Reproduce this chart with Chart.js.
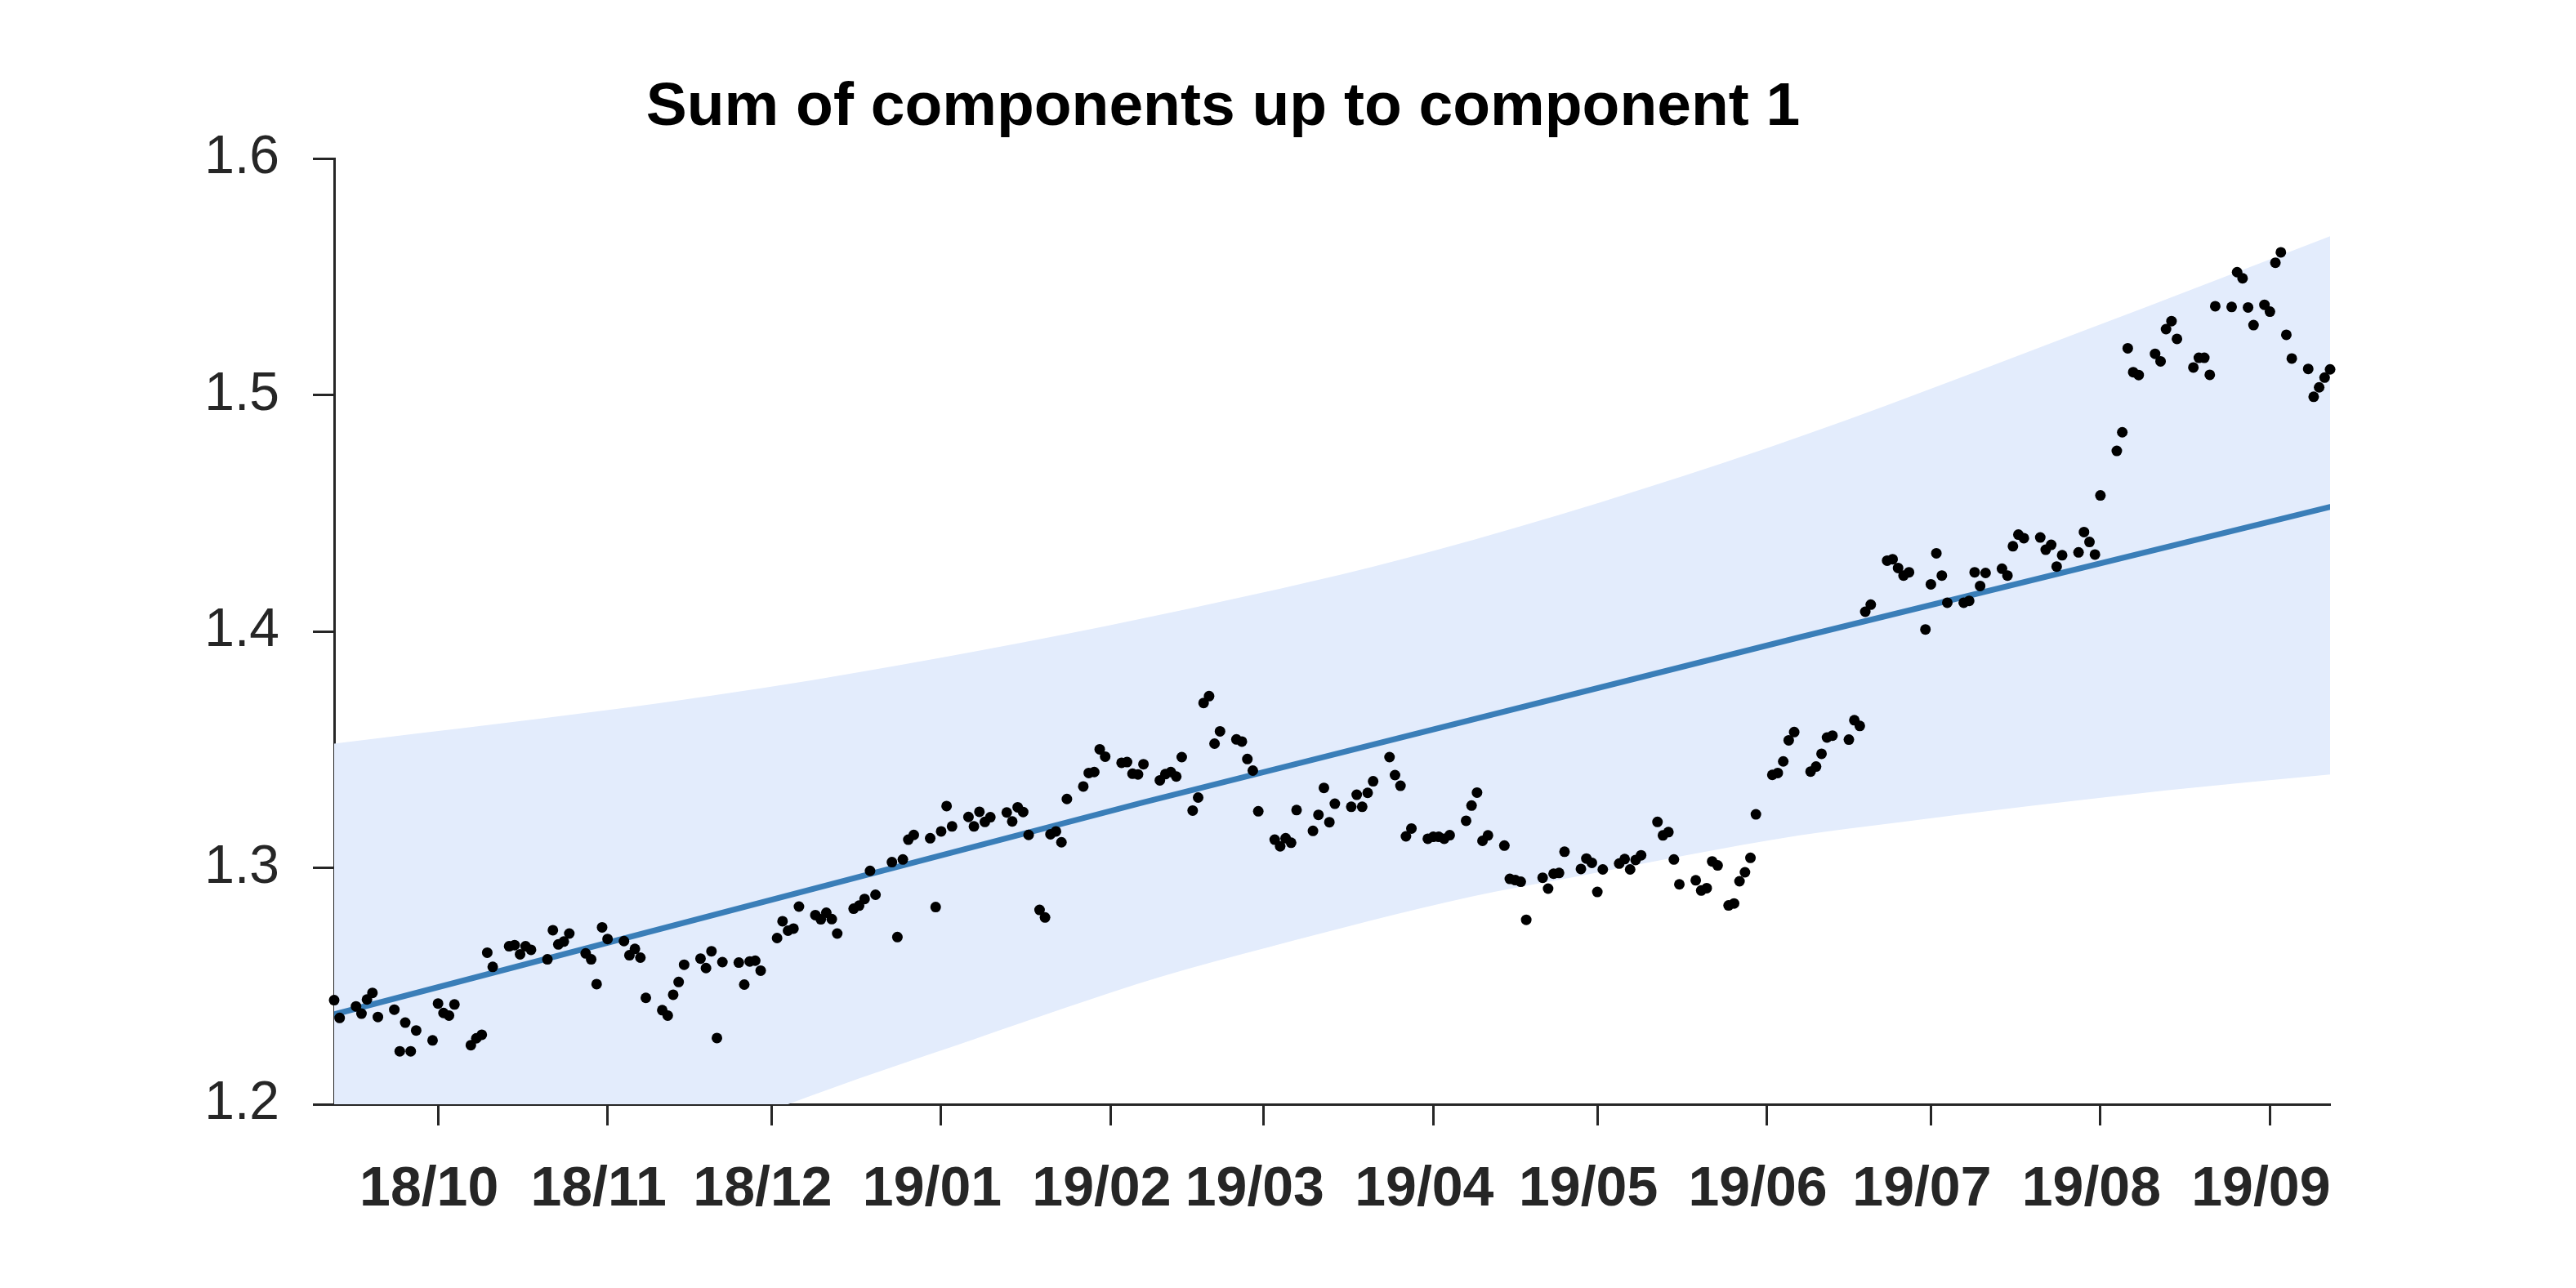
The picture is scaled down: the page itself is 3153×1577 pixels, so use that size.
<!DOCTYPE html>
<html>
<head>
<meta charset="utf-8">
<title>Sum of components up to component 1</title>
<script src="https://cdn.jsdelivr.net/npm/chart.js@4.4.0/dist/chart.umd.min.js"></script>
<style>
    html, body { margin: 0; padding: 0; background: #ffffff; }
    #wrap { width: 3153px; height: 1577px; }
</style>
</head>
<body>
<div id="wrap"><canvas id="chart" width="3153" height="1577"></canvas></div>
<script>
/* x values are days counted from 2018-10-01 */

const titleText = 'Sum of components up to component 1';

const monthTicks = [0, 31, 61, 92, 123, 151, 182, 212, 243, 273, 304, 335];
const monthLabels = ['18/10', '18/11', '18/12', '19/01', '19/02', '19/03',
                     '19/04', '19/05', '19/06', '19/07', '19/08', '19/09'];

const yTicks = [1.2, 1.3, 1.4, 1.5, 1.6];

// observed points
const days = [
    -19, -18,
    -15, -14, -13, -12, -11,
    -8, -7, -6, -5, -4,
    -1, 0, 1, 2, 3,
    6, 7, 8, 9, 10,
    13, 14, 15, 16, 17,
    20, 21, 22, 23, 24,
    27, 28, 29, 30, 31,
    34, 35, 36, 37, 38,
    41, 42, 43, 44, 45,
    48, 49, 50, 51, 52,
    55, 56, 57, 58, 59,
    62, 63, 64, 65, 66,
    69, 70, 71, 72, 73,
    76, 77, 78, 79, 80,
    83, 84, 85, 86, 87,
    90, 91, 92, 93, 94,
    97, 98, 99, 100, 101,
    104, 105, 106, 107, 108,
    110, 111, 112, 113, 114, 115,
    118, 119, 120, 121, 122,
    125, 126, 127, 128, 129,
    132, 133, 134, 135, 136,
    138, 139, 140, 141, 142, 143,
    146, 147, 148, 149, 150,
    153, 154, 155, 156, 157,
    160, 161, 162, 163, 164,
    167, 168, 169, 170, 171,
    174, 175, 176, 177, 178,
    181, 182, 183, 184, 185,
    188, 189, 190, 191, 192,
    195, 196, 197, 198, 199,
    202, 203, 204, 205, 206,
    209, 210, 211, 212, 213,
    216, 217, 218, 219, 220,
    223, 224, 225, 226, 227,
    230, 231, 232, 233, 234,
    236, 237, 238, 239, 240, 241,
    244, 245, 246, 247, 248,
    251, 252, 253, 254, 255,
    258, 259, 260, 261, 262,
    265, 266, 267, 268, 269,
    272, 273, 274, 275, 276,
    279, 280, 281, 282, 283,
    286, 287, 288, 289, 290,
    293, 294, 295, 296, 297,
    300, 301, 302, 303, 304,
    307, 308, 309, 310, 311,
    314, 315, 316, 317, 318,
    321, 322, 323, 324, 325,
    328, 329, 330, 331, 332,
    334, 335, 336, 337, 338, 339,
    342, 343, 344, 345, 346
];

const values = [
    1.2440, 1.2365,
    1.2414, 1.2383, 1.2443, 1.2471, 1.2369,
    1.2400, 1.2224, 1.2345, 1.2224, 1.2312,
    1.2270, 1.2426, 1.2386, 1.2375, 1.2422,
    1.2250, 1.2279, 1.2294, 1.2641, 1.2581,
    1.2668, 1.2673, 1.2634, 1.2668, 1.2653,
    1.2613, 1.2736, 1.2676, 1.2688, 1.2722,
    1.2638, 1.2613, 1.2508, 1.2748, 1.2699,
    1.2690, 1.2630, 1.2657, 1.2620, 1.2450,
    1.2398, 1.2375, 1.2463, 1.2517, 1.2590,
    1.2616, 1.2576, 1.2647, 1.2280, 1.2601,
    1.2599, 1.2506, 1.2604, 1.2607, 1.2565,
    1.2703, 1.2774, 1.2734, 1.2743, 1.2836,
    1.2800, 1.2782, 1.2810, 1.2783, 1.2722,
    1.2827, 1.2840, 1.2868, 1.2987, 1.2886,
    1.3024, 1.2707, 1.3035, 1.3119, 1.3139,
    1.3125, 1.2834, 1.3154, 1.3261, 1.3175,
    1.3215, 1.3175, 1.3237, 1.3194, 1.3214,
    1.3234, 1.3196, 1.3256, 1.3236, 1.3139,
    1.2822, 1.2790, 1.3142, 1.3154, 1.3108, 1.3291,
    1.3344, 1.3401, 1.3405, 1.3501, 1.3470,
    1.3444, 1.3447, 1.3398, 1.3395, 1.3438,
    1.3370, 1.3396, 1.3405, 1.3386, 1.3468,
    1.3242, 1.3297, 1.3697, 1.3726, 1.3525, 1.3577,
    1.3543, 1.3534, 1.3460, 1.3411, 1.3239,
    1.3119, 1.3091, 1.3125, 1.3106, 1.3244,
    1.3156, 1.3224, 1.3338, 1.3193, 1.3271,
    1.3258, 1.3309, 1.3258, 1.3317, 1.3366,
    1.3468, 1.3392, 1.3347, 1.3133, 1.3166,
    1.3123, 1.3131, 1.3131, 1.3123, 1.3138,
    1.3199, 1.3263, 1.3318, 1.3114, 1.3137,
    1.3094, 1.2953, 1.2948, 1.2941, 1.2780,
    1.2958, 1.2912, 1.2975, 1.2978, 1.3068,
    1.2995, 1.3039, 1.3021, 1.2898, 1.2993,
    1.3018, 1.3037, 1.2993, 1.3033, 1.3053,
    1.3194, 1.3137, 1.3151, 1.3035, 1.2930,
    1.2947, 1.2904, 1.2914, 1.3027, 1.3010,
    1.2841, 1.2849, 1.2943, 1.2981, 1.3042, 1.3226,
    1.3393, 1.3401, 1.3450, 1.3539, 1.3574,
    1.3407, 1.3428, 1.3482, 1.3551, 1.3559,
    1.3542, 1.3624, 1.3600, 1.4083, 1.4113,
    1.4299, 1.4305, 1.4268, 1.4236, 1.4250,
    1.4008, 1.4199, 1.4330, 1.4236, 1.4121,
    1.4121, 1.4129, 1.4250, 1.4192, 1.4247,
    1.4265, 1.4236, 1.4360, 1.4409, 1.4394,
    1.4397, 1.4345, 1.4366, 1.4274, 1.4322,
    1.4334, 1.4420, 1.4378, 1.4325, 1.4575,
    1.4763, 1.4842, 1.5197, 1.5096, 1.5084,
    1.5174, 1.5142, 1.5278, 1.5312, 1.5237,
    1.5116, 1.5157, 1.5157, 1.5085, 1.5375,
    1.5372, 1.5519, 1.5493, 1.5370, 1.5295,
    1.5381, 1.5352, 1.5559, 1.5603, 1.5254, 1.5154,
    1.5110, 1.4992, 1.5032, 1.5073, 1.5108
];

// fitted trend
const trendDays = [-19, 129, 249, 346];
const trendValues = [1.2380, 1.3277, 1.3975, 1.4526];

// outer edges of the shaded band
const upperDays = [-19, 42, 77, 137, 182, 243, 301, 346];
const upperValues = [1.3525, 1.3701, 1.3827, 1.4094, 1.4340, 1.4775, 1.5272, 1.5671];
const lowerDays = [-19, 64, 98, 132, 152, 189, 207, 249, 267, 316, 346];
const lowerValues = [1.1210, 1.2000, 1.2275, 1.2538, 1.2665, 1.2878, 1.2958, 1.3137, 1.3192, 1.3327, 1.3395];

const AXIS_COLOR = '#262626';
const toXY = (xs, ys) => xs.map((x, i) => ({ x: x, y: ys[i] }));

// title is drawn at a fixed spot, it is not centred on the plot
const plotTitle = {
    id: 'plotTitle',
    afterDraw(chart) {
        const ctx = chart.ctx;
        ctx.save();
        ctx.font = 'bold 75px "Liberation Sans", Arial, sans-serif';
        ctx.fillStyle = '#000000';
        ctx.textAlign = 'center';
        ctx.textBaseline = 'alphabetic';
        ctx.fillText(titleText, 1497, 153);
        ctx.restore();
    }
};

Chart.defaults.font.family = '"Liberation Sans", Arial, sans-serif';
Chart.defaults.color = AXIS_COLOR;

const ctx = document.getElementById('chart').getContext('2d');
new Chart(ctx, {
    type: 'line',
    data: {
        datasets: [
            {
                label: 'observed',
                data: toXY(days, values),
                showLine: false,
                pointRadius: 6.5,
                pointBackgroundColor: '#000000',
                pointBorderWidth: 0,
                clip: false,
                order: 0
            },
            {
                label: 'trend',
                data: toXY(trendDays, trendValues),
                borderColor: '#3A7EB8',
                borderWidth: 7,
                borderCapStyle: 'round',
                pointRadius: 0,
                tension: 0,
                order: 1
            },
            {
                label: 'upper',
                data: toXY(upperDays, upperValues),
                borderWidth: 0,
                pointRadius: 0,
                backgroundColor: '#E3ECFC',
                fill: '+1',
                cubicInterpolationMode: 'monotone',
                order: 2
            },
            {
                label: 'lower',
                data: toXY(lowerDays, lowerValues),
                borderWidth: 0,
                pointRadius: 0,
                fill: false,
                cubicInterpolationMode: 'monotone',
                order: 3
            }
        ]
    },
    options: {
        responsive: false,
        devicePixelRatio: 1,
        animation: false,
        events: [],
        layout: { padding: { top: 194, right: 301, bottom: 0, left: 0 } },
        plugins: {
            legend: { display: false },
            tooltip: { enabled: false },
            title: { display: false }
        },
        scales: {
            x: {
                type: 'linear',
                min: -19,
                max: 346,
                afterBuildTicks: axis => { axis.ticks = monthTicks.map(v => ({ value: v })); },
                afterFit: axis => { axis.height = 225; },
                grid: {
                    drawOnChartArea: false,
                    drawTicks: true,
                    tickLength: 26,
                    tickWidth: 3,
                    tickColor: AXIS_COLOR
                },
                border: { display: true, color: AXIS_COLOR, width: 3 },
                ticks: {
                    autoSkip: false,
                    maxRotation: 0,
                    padding: 38,
                    labelOffset: -11,
                    color: AXIS_COLOR,
                    font: { size: 68, weight: 'bold' },
                    callback: (value, index) => monthLabels[index]
                }
            },
            y: {
                type: 'linear',
                min: 1.2,
                max: 1.6,
                afterBuildTicks: axis => { axis.ticks = yTicks.map(v => ({ value: v })); },
                afterFit: axis => { axis.width = 409; },
                grid: {
                    drawOnChartArea: false,
                    drawTicks: true,
                    tickLength: 26,
                    tickWidth: 3,
                    tickColor: AXIS_COLOR
                },
                border: { display: true, color: AXIS_COLOR, width: 3 },
                ticks: {
                    padding: 41,
                    color: AXIS_COLOR,
                    font: { size: 66 },
                    callback: value => Number(value).toFixed(1)
                }
            }
        }
    },
    plugins: [plotTitle]
});
</script>
</body>
</html>
